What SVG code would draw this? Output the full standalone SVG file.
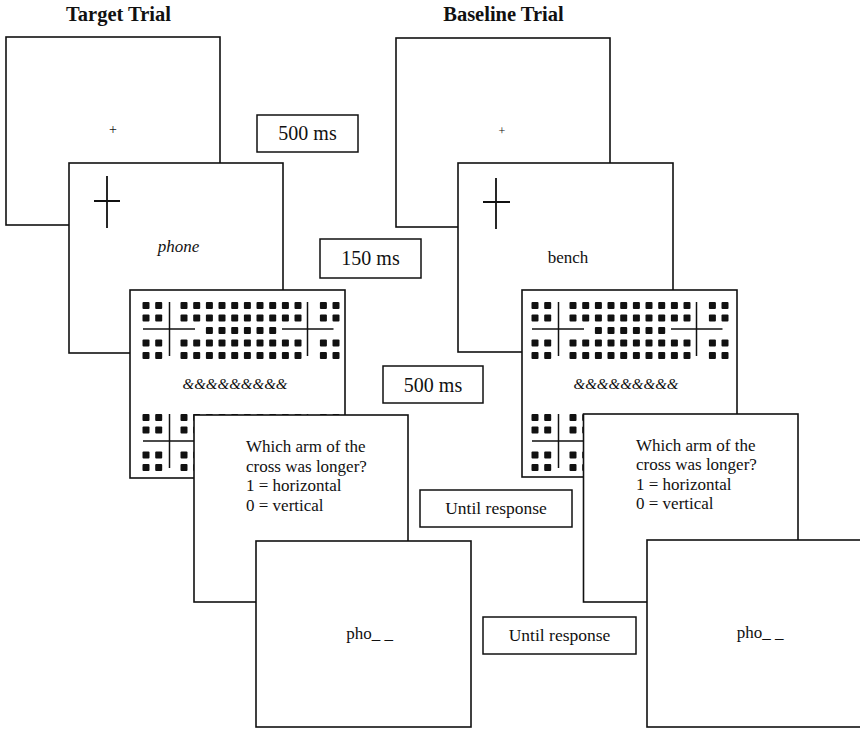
<svg xmlns="http://www.w3.org/2000/svg" width="860" height="729" viewBox="0 0 860 729">
<style>
.panel{fill:#fff;stroke:#111;stroke-width:1.6}
.tbox{fill:#fff;stroke:#111;stroke-width:1.5}
.t{font-family:"Liberation Serif","Times New Roman",serif;fill:#111}
.title{font-size:20.5px;font-weight:bold;text-anchor:middle}
.ms{font-size:20px;text-anchor:middle}
.ur{font-size:17.5px;text-anchor:middle}
.q{font-size:17px}
.word{font-size:17px;text-anchor:middle}
.amp{font-size:15px;font-style:italic;text-anchor:middle}
.xl{stroke:#111;stroke-width:1.8;fill:none}
.ml{stroke:#111;stroke-width:1.5;fill:none}
.dot{fill:#111}
</style>
<defs>
<g id="fullrow" class="dot">
<rect x="-3.5" y="-3.5" width="7" height="7" rx="1"/>
<rect x="9.2" y="-3.5" width="7" height="7" rx="1"/>
<rect x="34.5" y="-3.5" width="7" height="7" rx="1"/>
<rect x="47.2" y="-3.5" width="7" height="7" rx="1"/>
<rect x="59.9" y="-3.5" width="7" height="7" rx="1"/>
<rect x="72.5" y="-3.5" width="7" height="7" rx="1"/>
<rect x="85.2" y="-3.5" width="7" height="7" rx="1"/>
<rect x="97.9" y="-3.5" width="7" height="7" rx="1"/>
<rect x="110.5" y="-3.5" width="7" height="7" rx="1"/>
<rect x="123.2" y="-3.5" width="7" height="7" rx="1"/>
<rect x="135.9" y="-3.5" width="7" height="7" rx="1"/>
<rect x="148.5" y="-3.5" width="7" height="7" rx="1"/>
<rect x="173.9" y="-3.5" width="7" height="7" rx="1"/>
<rect x="186.5" y="-3.5" width="7" height="7" rx="1"/>
</g>
<g id="midrow" class="dot">
<rect x="59.9" y="-3.5" width="7" height="7" rx="1"/>
<rect x="72.5" y="-3.5" width="7" height="7" rx="1"/>
<rect x="85.2" y="-3.5" width="7" height="7" rx="1"/>
<rect x="97.9" y="-3.5" width="7" height="7" rx="1"/>
<rect x="110.5" y="-3.5" width="7" height="7" rx="1"/>
<rect x="123.2" y="-3.5" width="7" height="7" rx="1"/>
</g>
<g id="maskblock">
<use href="#fullrow" y="0"/>
<use href="#fullrow" y="12.5"/>
<use href="#midrow" y="25"/>
<use href="#fullrow" y="37.5"/>
<use href="#fullrow" y="50"/>
<path class="ml" d="M23.5,-3.5V50.5M-3,23.5H49M161.5,-3.5V50.5M136,23.5H187.5"/>
</g>
</defs>
<rect x="0" y="0" width="860" height="729" fill="#fff"/>

<g id="titles">
<text class="t title" x="118.5" y="21">Target Trial</text>
<text class="t title" x="503.5" y="21">Baseline Trial</text>
</g>

<!-- Target trial -->
<g id="target-fixation">
<rect class="panel" x="6" y="37" width="214" height="188"/>
<text class="t" x="113" y="134" font-size="14" text-anchor="middle">+</text>
</g>
<g id="target-prime">
<rect class="panel" x="69" y="163" width="214" height="190"/>
<path class="xl" d="M107,176V228M94,201H120"/>
<text class="t word" x="178.5" y="252" font-style="italic">phone</text>
</g>
<g id="target-mask">
<rect class="panel" x="130" y="290" width="215" height="188"/>
<use href="#maskblock" transform="translate(146,305.5)"/>
<use href="#maskblock" transform="translate(146,417.5)"/>
<text class="t amp" x="235" y="388.5">&amp;&amp;&amp;&amp;&amp;&amp;&amp;&amp;&amp;</text>
</g>
<g id="target-question">
<rect class="panel" x="194" y="415" width="214" height="187"/>
<text class="t q" x="246" y="452">Which arm of the</text>
<text class="t q" x="246" y="471.5">cross was longer?</text>
<text class="t q" x="246" y="491">1 = horizontal</text>
<text class="t q" x="246" y="510.5">0 = vertical</text>
</g>
<g id="target-fragment">
<rect class="panel" x="256" y="541" width="215" height="186"/>
<text class="t word" x="369.5" y="639" font-size="18">pho_ _</text>
</g>

<!-- Baseline trial -->
<g id="baseline-fixation">
<rect class="panel" x="396" y="38" width="214" height="189"/>
<text class="t" x="502" y="135" font-size="12" text-anchor="middle">+</text>
</g>
<g id="baseline-prime">
<rect class="panel" x="458" y="163" width="215" height="189"/>
<path class="xl" d="M496,178V229M483,202H510"/>
<text class="t word" x="568" y="262.5">bench</text>
</g>
<g id="baseline-mask">
<rect class="panel" x="522" y="290" width="215" height="187"/>
<use href="#maskblock" transform="translate(535,305.5)"/>
<use href="#maskblock" transform="translate(535,417.5)"/>
<text class="t amp" x="626" y="389">&amp;&amp;&amp;&amp;&amp;&amp;&amp;&amp;&amp;</text>
</g>
<g id="baseline-question">
<rect class="panel" x="583.5" y="414" width="214.5" height="188"/>
<text class="t q" x="636" y="450.5">Which arm of the</text>
<text class="t q" x="636" y="470">cross was longer?</text>
<text class="t q" x="636" y="489.5">1 = horizontal</text>
<text class="t q" x="636" y="509">0 = vertical</text>
</g>
<g id="baseline-fragment">
<rect class="panel" x="647" y="540" width="216" height="187"/>
<text class="t word" x="760" y="638" font-size="18">pho_ _</text>
</g>

<!-- Timing labels -->
<g id="time-500a">
<rect class="tbox" x="257" y="115" width="101" height="37"/>
<text class="t ms" x="307.5" y="140">500 ms</text>
</g>
<g id="time-150">
<rect class="tbox" x="320" y="239" width="101" height="39"/>
<text class="t ms" x="370.5" y="265">150 ms</text>
</g>
<g id="time-500b">
<rect class="tbox" x="383" y="366" width="100" height="37"/>
<text class="t ms" x="433" y="391.5">500 ms</text>
</g>
<g id="time-until-a">
<rect class="tbox" x="420" y="490" width="152" height="37"/>
<text class="t ur" x="496" y="514">Until response</text>
</g>
<g id="time-until-b">
<rect class="tbox" x="483" y="617" width="153" height="37"/>
<text class="t ur" x="559.5" y="641">Until response</text>
</g>
</svg>
